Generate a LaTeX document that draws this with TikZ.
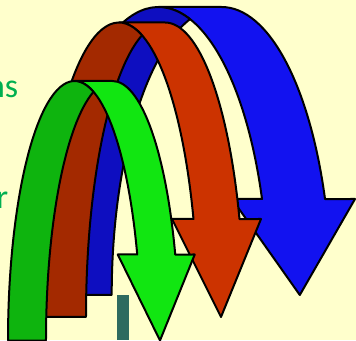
\documentclass[tikz,border=0pt]{standalone}
\usepackage{fontspec}
\setmainfont{Carlito}
\definecolor{bg}{HTML}{FFFFCC}
\definecolor{bluefront}{HTML}{1212F0}
\definecolor{blueback}{HTML}{0E0EC0}
\definecolor{redfront}{HTML}{CC3300}
\definecolor{redback}{HTML}{A32900}
\definecolor{greenfront}{HTML}{11E611}
\definecolor{greenback}{HTML}{0EB40E}
\definecolor{txtgreen}{HTML}{00B050}
\definecolor{tealbar}{HTML}{2E6B5F}
\tikzset{
  arrowline/.style={draw=black, line width=2pt, line join=round},
  sidetext/.style={text=txtgreen, inner sep=0pt, font=\fontsize{34}{40}\selectfont, anchor=base east},
}
% #1 left, #2 thickness, #3 x radius, #4 height, #5 bottom (image y), #6 head length, #7 head width, #8 front colour, #9 back colour
\newcommand\curvedarrow[9]{%
 \pgfmathsetmacro\ca{#1}%
 \pgfmathsetmacro\cth{#2}%
 \pgfmathsetmacro\cwr{#3}%
 \pgfmathsetmacro\ch{#4}%
 \pgfmathsetmacro\cyb{340-#5}%
 \pgfmathsetmacro\cah{#6}%
 \pgfmathsetmacro\caw{#7}%
 \pgfmathsetmacro\czero{\ca+\cwr}%
 \pgfmathsetmacro\cone{\czero+\cth}%
 \pgfmathsetmacro\cphi{asin(\cah/\ch)}%
 \pgfmathsetmacro\cdx{\cwr*cos(\cphi)}%
 \pgfmathsetmacro\cdh{(\caw-\cth)/2}%
 \pgfmathsetmacro\cxv{\czero+\cdx}%
 \pgfmathsetmacro\cxvii{\cone+\cdx}%
 \pgfmathsetmacro\cxiv{\cxv-\cdh}%
 \pgfmathsetmacro\cxviii{\cxvii+\cdh}%
 \pgfmathsetmacro\cxvi{\ca+2*\cwr+\cth/2}%
 \pgfmathsetmacro\cyi{\cyb+\cah}%
 \pgfmathsetmacro\cpsi{acos(\cth/(2*\cwr))}%
 \pgfmathsetmacro\cpsib{180-\cpsi}%
 \pgfmathsetmacro\ctop{\cyb+\ch}%
 \filldraw[arrowline, fill=#8] (\cxvi,\cyb) -- (\cxiv,\cyi) -- (\cxv,\cyi)
   arc[start angle=\cphi, end angle=90, x radius=\cwr pt, y radius=\ch pt]
   -- (\cone,\ctop)
   arc[start angle=90, end angle=\cphi, x radius=\cwr pt, y radius=\ch pt]
   -- (\cxviii,\cyi) -- cycle;
 \filldraw[arrowline, fill=#9] (\ca,\cyb)
   arc[start angle=180, end angle=\cpsi, x radius=\cwr pt, y radius=\ch pt]
   arc[start angle=\cpsib, end angle=180, x radius=\cwr pt, y radius=\ch pt]
   -- cycle;
}
\begin{document}
\begin{tikzpicture}[x=1pt, y=1pt]
\useasboundingbox (0,0) rectangle (356,340);
\fill[bg] (0,0) rectangle (356,340);
\clip (0,0) rectangle (356,340);
\node[sidetext] (t1) at (18.5,242.5) {ns};
\node[sidetext] (t2) at (8.5,131) {r};
\fill[tealbar] (116.7,0) rectangle (128.7,45);
\curvedarrow{48.7}{63}{109.8}{288}{295}{96}{123}{bluefront}{blueback}
\curvedarrow{40}{46}{79}{294.5}{317}{98}{89}{redfront}{redback}
\curvedarrow{8}{38}{66.5}{259.5}{340.5}{86}{77}{greenfront}{greenback}
\end{tikzpicture}
\end{document}
